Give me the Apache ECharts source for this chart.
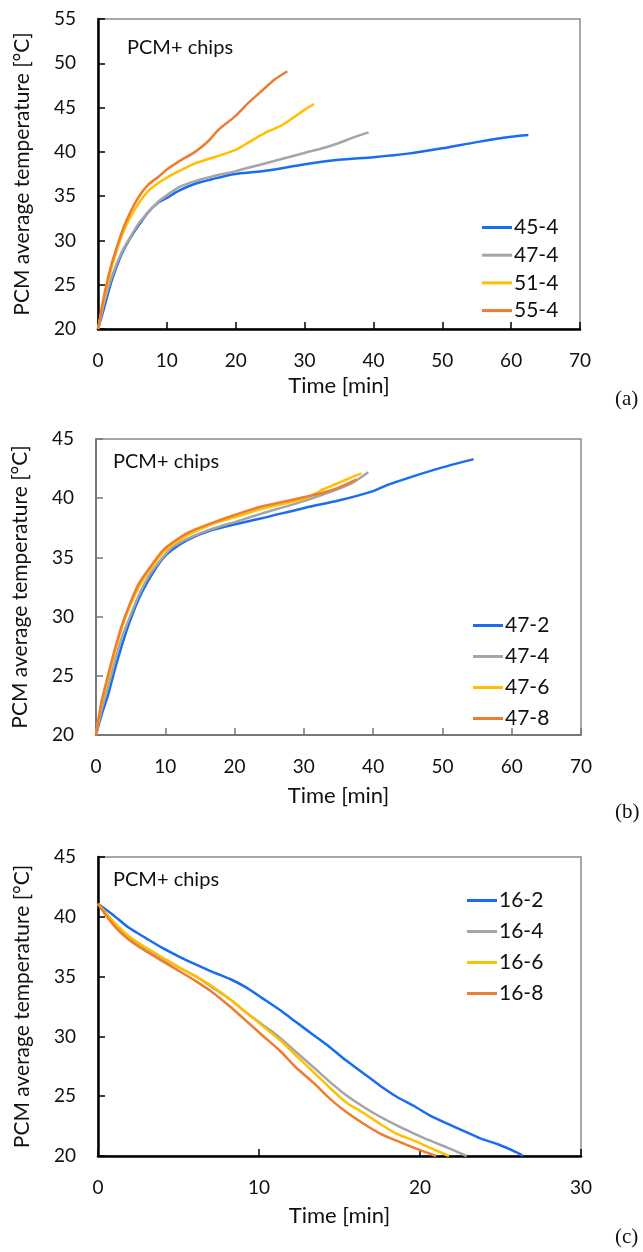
<!DOCTYPE html>
<html>
<head>
<meta charset="utf-8">
<script src="https://cdn.jsdelivr.net/npm/echarts@6/dist/echarts.min.js"></script>
<style>
html,body{margin:0;padding:0;background:#fff;}
#chart{width:643px;height:1252px;}
</style>
</head>
<body>
<div id="chart"></div>
<script>
// ---------- Panel (a): charging, varying inlet temperature ----------
const a_names = ['45-4', '47-4', '51-4', '55-4'];
const a_t_45_4 = [0,1.0,2.0,3.4,4.4,5.9,7.3,8.8,10.0,11.7,14.1,16.5,19.9,23.8,30.1,35,40,45,50,55,60,62.5];
const a_T_45_4 = [20,22.7,25.5,28.4,29.9,31.7,33.2,34.3,34.8,35.6,36.4,36.9,37.5,37.8,38.6,39.1,39.4,39.8,40.4,41.1,41.7,41.9];
const a_t_47_4 = [0,1.0,2.0,3.4,4.4,5.9,7.3,8.8,10.0,11.7,14.1,16.5,19.9,23.8,30.1,33,35,37,39.3];
const a_T_47_4 = [20,23.3,25.9,28.6,30.0,31.9,33.2,34.4,35.1,36.0,36.7,37.2,37.8,38.6,39.9,40.5,41.0,41.6,42.2];
const a_t_51_4 = [0,1.0,2.0,3.4,4.4,5.9,7.3,8.8,10.0,11.7,14.1,16.5,19.9,21.3,22.8,24.7,26.7,30.1,31.4];
const a_T_51_4 = [20,23.8,27.0,30.4,32.2,34.2,35.6,36.5,37.1,37.8,38.7,39.3,40.2,40.8,41.5,42.3,43.0,44.8,45.4];
const a_t_55_4 = [0,1.0,2.0,3.4,4.4,5.9,7.3,8.8,10.0,11.7,14.1,16.0,17.5,19.9,21.8,23.8,25.7,27.5];
const a_T_55_4 = [20,24.2,27.4,30.8,32.7,34.9,36.3,37.2,38.0,38.9,40.0,41.2,42.5,44.0,45.5,46.9,48.2,49.1];

// ---------- Panel (b): charging, varying flow rate ----------
const b_names = ['47-2', '47-4', '47-6', '47-8'];
const b_t_47_2 = [0,0.8,1.8,2.7,3.7,4.7,6.1,7.6,9.5,10.9,13.3,16.7,20.1,23.9,30.2,35,40,42,45,50,54.5];
const b_T_47_2 = [20,21.7,23.5,25.5,27.5,29.3,31.4,33.1,34.8,35.6,36.5,37.3,37.8,38.3,39.2,39.8,40.6,41.1,41.7,42.6,43.3];
const b_t_47_4 = [0,0.8,1.8,2.7,3.7,4.7,6.1,7.6,9.5,10.9,13.3,16.7,20.1,23.9,30.2,35,37,39.3];
const b_T_47_4 = [20,22.1,24.2,26.2,28.2,29.7,31.7,33.4,34.9,35.8,36.6,37.4,38.0,38.7,39.8,40.8,41.3,42.2];
const b_t_47_6 = [0,0.8,1.8,2.7,3.7,4.7,6.1,7.6,9.5,10.9,13.3,16.7,20.1,23.9,30.2,33,35,38.3];
const b_T_47_6 = [20,22.7,24.9,27.0,29.0,30.6,32.4,33.8,35.3,36.0,36.9,37.8,38.4,39.1,40.0,40.8,41.3,42.1];
const b_t_47_8 = [0,0.8,1.8,2.7,3.7,4.7,6.1,7.6,9.5,10.9,13.3,16.7,20.1,23.9,30.2,33,35,37.6];
const b_T_47_8 = [20,22.8,25.2,27.2,29.2,30.8,32.7,34.0,35.5,36.2,37.1,37.9,38.6,39.3,40.1,40.5,40.9,41.6];

// ---------- Panel (c): discharging ----------
const c_names = ['16-2', '16-4', '16-6', '16-8'];
const c_t_16_2 = [0,0.9,1.9,3.0,4.0,5.0,6.1,7.1,8.2,9.2,10.2,11.3,12.3,13.4,14.4,15.4,16.5,17.5,18.5,19.6,20.6,21.7,22.7,23.7,24.8,26.0,26.4];
const c_T_16_2 = [41.1,40.2,39.1,38.2,37.4,36.7,36.0,35.4,34.8,34.1,33.2,32.2,31.2,30.1,29.1,28.0,26.9,25.9,25.0,24.2,23.4,22.7,22.1,21.5,21.0,20.3,20.0];
const c_t_16_4 = [0,0.5,1.1,1.9,3.0,4.0,5.0,6.1,7.1,8.2,9.2,10.2,11.3,12.3,13.4,14.4,15.4,16.5,17.5,18.5,19.6,20.6,21.7,22.9];
const c_T_16_4 = [41.1,40.2,39.2,38.3,37.3,36.5,35.8,35.0,34.1,33.1,32.0,31.0,29.9,28.7,27.4,26.2,25.1,24.1,23.3,22.6,21.9,21.3,20.7,20.0];
const c_t_16_6 = [0,0.5,1.1,1.9,3.0,4.0,5.0,6.1,7.1,8.2,9.2,10.2,11.3,12.3,13.4,14.4,15.4,16.5,17.5,18.5,19.6,20.6,21.8];
const c_T_16_6 = [41.1,40.3,39.4,38.4,37.4,36.6,35.8,35.0,34.2,33.1,32.0,30.9,29.7,28.4,27.0,25.7,24.5,23.6,22.7,21.9,21.3,20.7,20.0];
const c_t_16_8 = [0,0.5,1.1,1.9,3.0,4.0,5.0,6.1,7.1,8.2,9.2,10.2,11.3,12.3,13.4,14.4,15.4,16.5,17.5,18.5,19.6,21.0];
const c_T_16_8 = [41.1,40.1,39.1,38.1,37.1,36.3,35.5,34.6,33.7,32.5,31.3,30.1,28.8,27.4,26.1,24.8,23.7,22.7,21.9,21.3,20.7,20.0];

// ---------- Axis ranges ----------
const a_yMin = 20, a_yMax = 55, a_xMax = 70;
const b_yMin = 20, b_yMax = 45, b_xMax = 70;
const c_yMin = 20, c_yMax = 45, c_xMax = 30;

const colors = ['#1a6cf0', '#a5a5a5', '#ffc000', '#ed7d31'];
const sans = 'Lato';
const txt = '#111';

function zip(t, T) { return t.map((v, i) => [v, T[i]]); }

const panelA = [zip(a_t_45_4,a_T_45_4), zip(a_t_47_4,a_T_47_4), zip(a_t_51_4,a_T_51_4), zip(a_t_55_4,a_T_55_4)];
const panelB = [zip(b_t_47_2,b_T_47_2), zip(b_t_47_4,b_T_47_4), zip(b_t_47_6,b_T_47_6), zip(b_t_47_8,b_T_47_8)];
const panelC = [zip(c_t_16_2,c_T_16_2), zip(c_t_16_4,c_T_16_4), zip(c_t_16_6,c_T_16_6), zip(c_t_16_8,c_T_16_8)];

const grids = [
  {left: 98, top: 19, width: 482, height: 310},
  {left: 96, top: 439, width: 485, height: 296},
  {left: 98, top: 857, width: 483, height: 299}
].map(g => Object.assign(g, {show: true, borderColor: '#8a8a8a', borderWidth: 1.5, backgroundColor: 'transparent'}));

function xAx(idx, max, lineColor, lineWidth, gap) {
  return {
    type: 'value', gridIndex: idx, min: 0, max: max, interval: 10,
    name: 'Time [min]', nameLocation: 'middle', nameGap: gap,
    nameTextStyle: {fontFamily: sans, fontSize: 22, color: txt},
    axisLine: {show: true, onZero: false, lineStyle: {color: lineColor, width: lineWidth}},
    axisTick: {show: true, inside: true, length: 7, lineStyle: {color: lineColor, width: 1.5}},
    axisLabel: {fontFamily: sans, fontSize: 19, color: txt, margin: 22},
    splitLine: {show: false}
  };
}
function yAx(idx, min, max, lineColor, lineWidth) {
  return {
    type: 'value', gridIndex: idx, min: min, max: max, interval: 5,
    name: 'PCM average temperature [°C]', nameLocation: 'middle', nameGap: 65,
    nameTextStyle: {fontFamily: sans, fontSize: 21, color: txt},
    axisLine: {show: true, onZero: false, lineStyle: {color: lineColor, width: lineWidth}},
    axisTick: {show: true, inside: true, length: 7, lineStyle: {color: lineColor, width: 1.5}},
    axisLabel: {fontFamily: sans, fontSize: 19, color: txt, margin: 22},
    splitLine: {show: false}
  };
}

const series = [];
function addSeries(names, data, idx) {
  names.forEach((n, i) => {
    series.push({
      type: 'line', name: n, xAxisIndex: idx, yAxisIndex: idx,
      data: data[i], showSymbol: false, symbol: 'none',
      smooth: 0.25,
      lineStyle: {color: colors[i], width: 2.5},
      itemStyle: {color: colors[i]},
      z: 3 + i
    });
  });
}
addSeries(a_names, panelA, 0);
addSeries(b_names, panelB, 1);
addSeries(c_names, panelC, 2);

function legend(names, left, top, gap) {
  return {
    data: names, orient: 'vertical', left: left, top: top,
    icon: 'rect', itemWidth: 30, itemHeight: 3, itemGap: gap,
    selectedMode: false,
    textStyle: {fontFamily: sans, fontSize: 21, lineHeight: 20, color: txt, padding: [0, 0, 0, -3]}
  };
}

function label(text, left, top, font, size) {
  return {text: text, left: left, top: top, padding: 0,
    textStyle: {fontFamily: font, fontSize: size, lineHeight: size, fontWeight: 'normal', color: txt}};
}

const option = {
  animation: false,
  backgroundColor: '#fff',
  title: [
    label('PCM+ chips', 127, 38, sans, 20),
    label('PCM+ chips', 113, 452, sans, 20),
    label('PCM+ chips', 113, 870, sans, 20),
    label('(a)', 615, 389, 'Liberation Serif', 21),
    label('(b)', 615, 802, 'Liberation Serif', 21),
    label('(c)', 615, 1227, 'Liberation Serif', 21)
  ],
  grid: grids,
  xAxis: [xAx(0, a_xMax, '#000', 2.5, 46), xAx(1, b_xMax, '#777', 1.8, 50), xAx(2, c_xMax, '#000', 2.5, 49)],
  yAxis: [yAx(0, a_yMin, a_yMax, '#000', 2.5), yAx(1, b_yMin, b_yMax, '#777', 1.8), yAx(2, c_yMin, c_yMax, '#000', 2.5)],
  legend: [
    legend(a_names, 477, 212, 6.7),
    legend(b_names, 468, 610, 10),
    legend(c_names, 462, 885, 10)
  ],
  series: series
};

const chart = echarts.init(document.getElementById('chart'), null, {renderer: 'canvas'});
chart.setOption(option);
</script>
</body>
</html>
